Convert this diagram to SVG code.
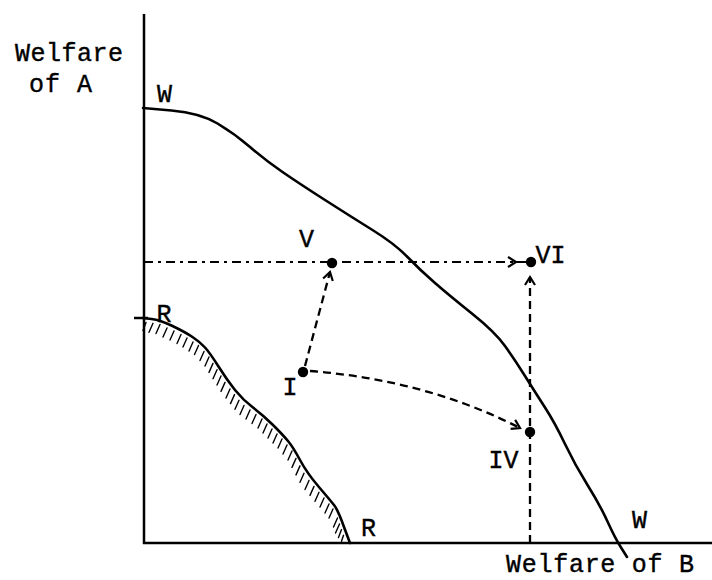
<svg xmlns="http://www.w3.org/2000/svg" width="712" height="580" viewBox="0 0 712 580">
<style>
text{font-family:"Liberation Mono","DejaVu Sans Mono",monospace;font-size:25px;fill:#000;stroke:#000;stroke-width:0.4}
.lbl{text-anchor:middle}
.axis{stroke:#000;stroke-width:2.5;fill:none}
.curve{stroke:#000;stroke-width:2.6;fill:none;stroke-linejoin:round;stroke-linecap:round}
.hatch{stroke:#000;stroke-width:1.4;fill:none;stroke-linecap:round}
.dash{stroke:#000;stroke-width:2.3;fill:none;stroke-dasharray:8 5}
.dashdot{stroke:#000;stroke-width:2;fill:none;stroke-dasharray:9 5 3 5}
.dot{fill:#000}
</style>
<defs>
<marker id="arr" markerUnits="userSpaceOnUse" markerWidth="20" markerHeight="20" refX="0" refY="0" viewBox="-10 -10 20 20" orient="auto" overflow="visible">
<path d="M-8,-5 L0,0 L-8,5" stroke="#000" stroke-width="2.2" fill="none"/>
</marker>
</defs>
<g id="axes">
<line class="axis" x1="144" y1="14" x2="144" y2="544"/>
<line class="axis" x1="143" y1="543" x2="712" y2="543"/>
<line class="axis" x1="134" y1="318" x2="148" y2="318"/>
</g>
<g id="axis-labels">
<text x="15" y="61" textLength="108" lengthAdjust="spacing">Welfare</text>
<text x="29" y="92" textLength="63" lengthAdjust="spacing">of A</text>
<text x="506" y="572" textLength="188" lengthAdjust="spacing">Welfare of B</text>
</g>
<g id="curve-W">
<path class="curve" d="M143,108 L171.5,110.5 Q200,113 217.5,123.5 Q235,134 250,147 Q265,160 282.5,172 Q300,184 325,200 Q350,216 372.5,230 Q395,244 407.5,257 Q420,270 435,283 Q450,296 472.5,314 Q495,332 505,346 Q515,360 525,376 Q535,392 545,407.5 Q555,423 565,444 Q575,465 587.5,485 Q600,505 607.5,521.5 Q615,538 621,547.5 L627,557"/>
<text class="lbl" x="164.5" y="102">W</text>
<text class="lbl" x="639.5" y="528">W</text>
</g>
<g id="curve-R">
<path class="curve" d="M143,318 L151.5,319 Q160,320 172.5,326 Q185,332 192.5,337 Q200,342 205,347.5 Q210,353 218.5,366.5 Q227,380 235,390 Q243,400 253,407.5 Q263,415 273,425 Q283,435 288,441 Q293,447 300,460 Q307,473 318.5,486.5 Q330,500 334,505 Q338,510 344,527 L350,543"/>
<path class="hatch" d="M146,322.5l-3,8 M153,323.3l-4,9 M160,324.5l-4,9 M167,328l-4,9 M174,331l-4,9 M181,334.5l-4,9 M187,338l-4,9 M193,342l-4,9 M198.5,345.5l-4,9 M204,351.5l-4,9 M209,357l-4,9 M213,363.4l-4,9 M217,369.7l-4,9 M221,376l-4,9 M225,382.4l-4,9 M230,389l-4,9 M234.5,394.6l-4,9 M239,400.3l-4,9 M244,405.5l-4,9 M250,410l-4,9 M256,414.5l-4,9 M262,419l-4,9 M267,424l-4,9 M272,429l-4,9 M277,434l-4,9 M282,439l-4,9 M287,445l-4,9 M292,451l-4,9 M296,458.4l-4,9 M300,465.9l-4,9 M304,473.3l-4,9 M309,480.5l-4,9 M314,486.4l-4,9 M319,492.3l-4,9 M324,498l-4,9 M329,504l-4,9 M333,509l-4,9 M337.5,518l-4,9 M339.5,524l-4,9 M341.5,529.6l-3,8 M343.5,535.3l-2,6"/>
<text class="lbl" x="164" y="322">R</text>
<text class="lbl" x="368.5" y="536">R</text>
</g>
<g id="connectors">
<path class="dashdot" d="M144,262 L516,262" marker-end="url(#arr)"/>
<line stroke="#000" stroke-width="2" x1="516" y1="262" x2="530" y2="262"/>
<path class="dash" d="M530,543 L530,277" marker-end="url(#arr)"/>
<path class="dash" d="M305,366 L330,272" marker-end="url(#arr)"/>
<path class="dash" d="M310,371 Q426,380 520,428" marker-end="url(#arr)"/>
</g>
<g id="node-I">
<circle class="dot" cx="303" cy="372" r="5.2"/>
<text class="lbl" x="290" y="395">I</text>
</g>
<g id="node-IV">
<circle class="dot" cx="530" cy="432" r="5.2"/>
<text class="lbl" x="503.5" y="468">IV</text>
</g>
<g id="node-V">
<circle class="dot" cx="332" cy="263" r="5.2"/>
<text class="lbl" x="306.5" y="247">V</text>
</g>
<g id="node-VI">
<circle class="dot" cx="531" cy="262" r="5.2"/>
<text class="lbl" x="550.5" y="263">VI</text>
</g>
</svg>
